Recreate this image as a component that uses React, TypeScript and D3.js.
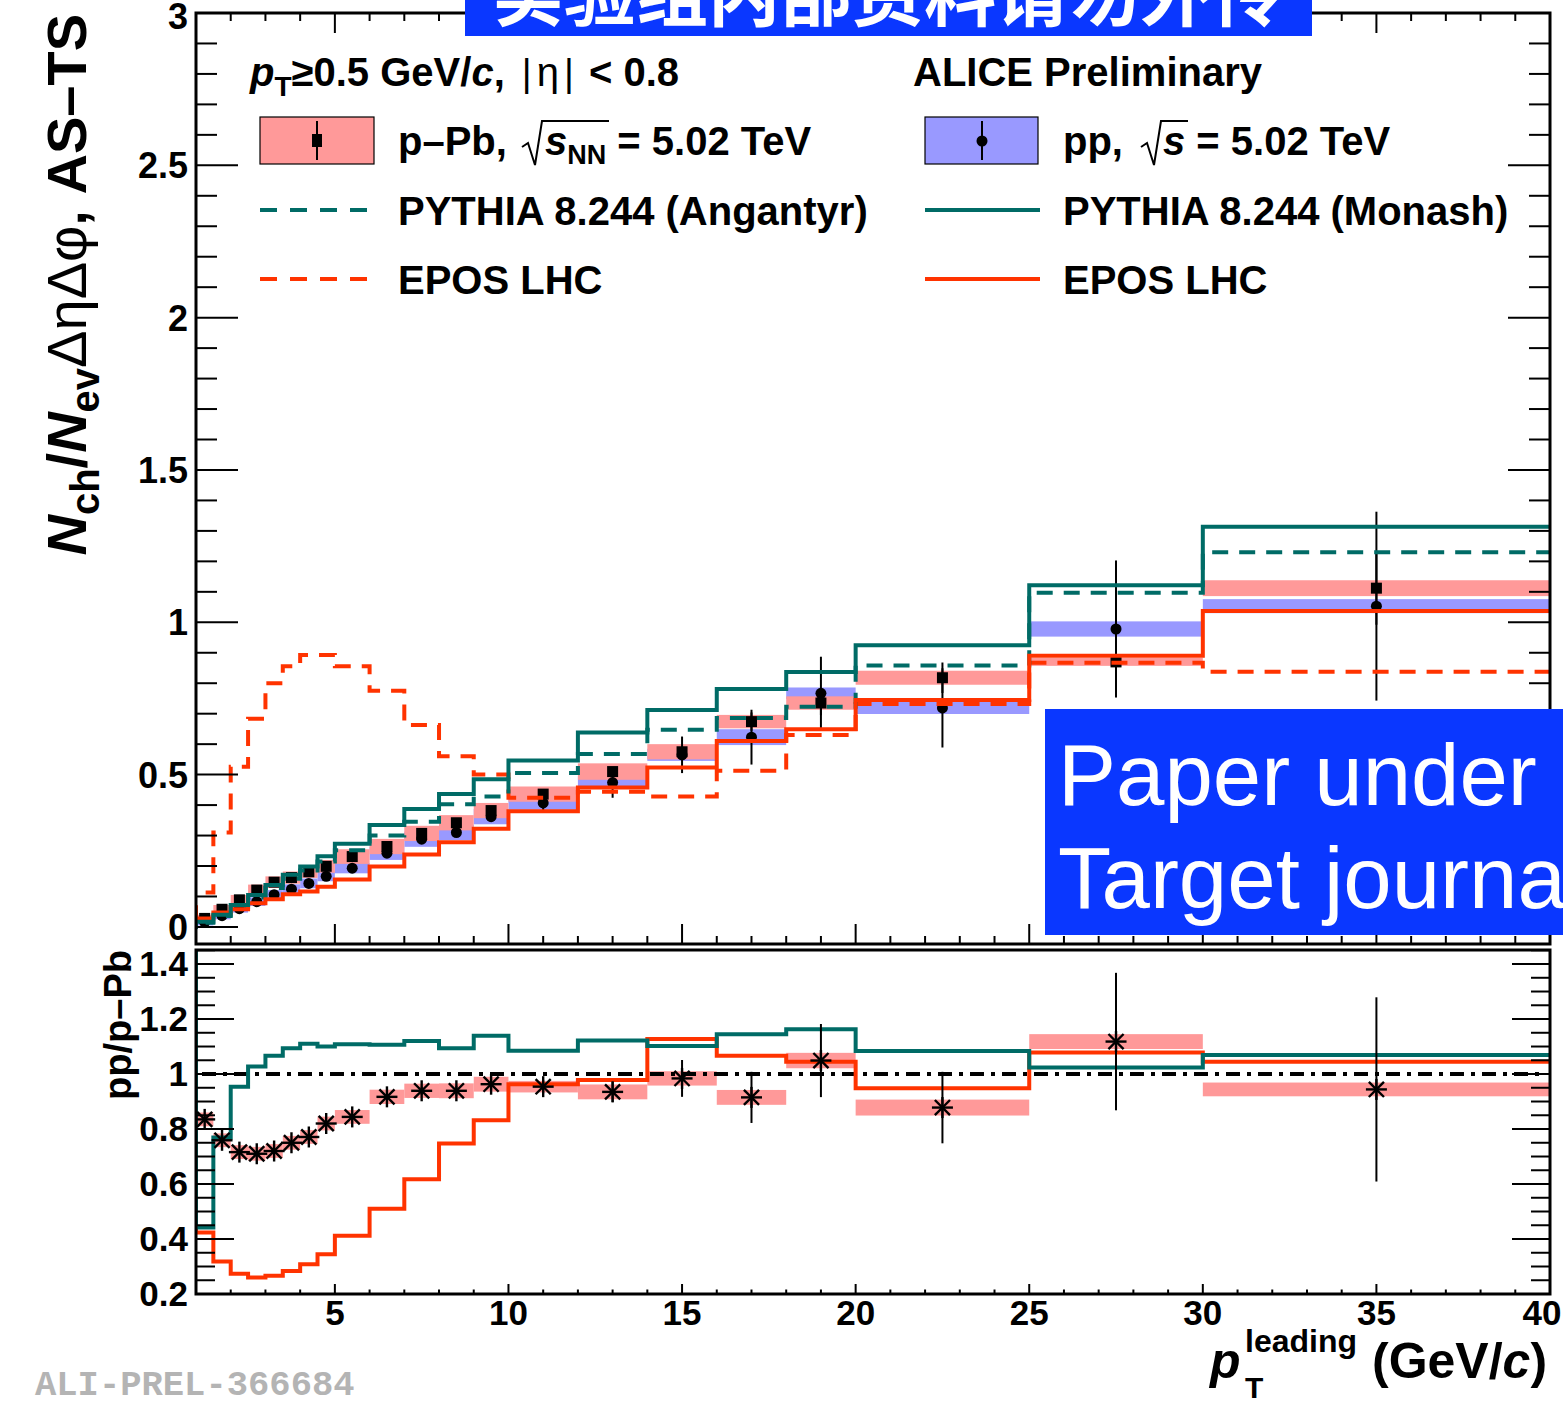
import React from "react";
import * as d3 from "d3";

// bin edges in leading-pT (GeV/c)
const binEdges = [1, 1.5, 2, 2.5, 3, 3.5, 4, 4.5, 5, 6, 7, 8, 9, 10, 12, 14, 16, 18, 20, 25, 30, 40];
const binCenters = binEdges.slice(0, -1).map((e, i) => (e + binEdges[i + 1]) / 2);

// top panel: data
const pPbValues = [0.028, 0.058, 0.089, 0.121, 0.147, 0.162, 0.181, 0.199, 0.231, 0.264, 0.307, 0.342, 0.382, 0.436, 0.51, 0.575, 0.674, 0.735, 0.818, 0.87, 1.112];
const pPbSys = [0.012, 0.014, 0.016, 0.018, 0.019, 0.02, 0.02, 0.021, 0.024, 0.025, 0.025, 0.025, 0.025, 0.025, 0.027, 0.025, 0.022, 0.022, 0.023, 0.013, 0.026];
const pPbStat = [0.002, 0.002, 0.002, 0.003, 0.003, 0.003, 0.004, 0.004, 0.005, 0.006, 0.007, 0.008, 0.01, 0.012, 0.015, 0.02, 0.03, 0.04, 0.05, 0.08, 0.12];
const ppValues = [0.015, 0.037, 0.06, 0.083, 0.106, 0.124, 0.143, 0.166, 0.193, 0.242, 0.288, 0.31, 0.362, 0.407, 0.474, 0.565, 0.623, 0.767, 0.719, 0.978, 1.053];
const ppSys = [0.01, 0.012, 0.013, 0.014, 0.015, 0.016, 0.016, 0.016, 0.017, 0.022, 0.025, 0.025, 0.025, 0.022, 0.02, 0.02, 0.026, 0.019, 0.02, 0.025, 0.023];
const ppStat = [0.002, 0.002, 0.003, 0.003, 0.004, 0.004, 0.005, 0.005, 0.006, 0.008, 0.01, 0.012, 0.015, 0.03, 0.05, 0.06, 0.09, 0.12, 0.13, 0.225, 0.31];

// top panel: models (the "Lead" number is the bin just below 1 GeV/c)
const monashLead = 0.0;
const monash = [0.017, 0.04, 0.072, 0.105, 0.138, 0.171, 0.198, 0.232, 0.273, 0.335, 0.387, 0.436, 0.485, 0.546, 0.638, 0.712, 0.781, 0.837, 0.925, 1.122, 1.314];
const angantyrLead = 0.014;
const angantyr = [0.014, 0.036, 0.066, 0.097, 0.128, 0.158, 0.185, 0.215, 0.252, 0.3, 0.345, 0.403, 0.428, 0.505, 0.568, 0.647, 0.686, 0.723, 0.858, 1.097, 1.23];
const eposPpLead = 0.065;
const eposPp = [0.028, 0.047, 0.058, 0.078, 0.091, 0.107, 0.116, 0.132, 0.156, 0.198, 0.238, 0.278, 0.322, 0.38, 0.458, 0.523, 0.61, 0.649, 0.745, 0.89, 1.037];
const eposPPbLead = 0.113;
const eposPPb = [0.113, 0.31, 0.526, 0.683, 0.8, 0.856, 0.893, 0.893, 0.856, 0.775, 0.663, 0.56, 0.5, 0.424, 0.444, 0.428, 0.513, 0.63, 0.732, 0.867, 0.838];

// bottom panel: ratio pp / p-Pb
const ratioValues = [0.835, 0.759, 0.716, 0.71, 0.72, 0.75, 0.771, 0.82, 0.844, 0.917, 0.939, 0.939, 0.963, 0.954, 0.935, 0.984, 0.915, 1.049, 0.878, 1.118, 0.944];
const ratioSys = [0.025, 0.025, 0.025, 0.025, 0.025, 0.025, 0.025, 0.025, 0.025, 0.026, 0.026, 0.027, 0.027, 0.021, 0.027, 0.026, 0.027, 0.028, 0.029, 0.027, 0.025];
const ratioStat = [0.005, 0.005, 0.005, 0.006, 0.006, 0.007, 0.008, 0.01, 0.01, 0.012, 0.015, 0.018, 0.02, 0.025, 0.037, 0.067, 0.093, 0.133, 0.13, 0.25, 0.335];
const ratioMonashLead = 1.6;
const ratioMonash = [0.442, 0.769, 0.954, 1.027, 1.066, 1.094, 1.11, 1.1, 1.108, 1.106, 1.12, 1.094, 1.139, 1.085, 1.122, 1.102, 1.145, 1.163, 1.084, 1.024, 1.069];
const ratioEposLead = 0.565;
const ratioEpos = [0.424, 0.318, 0.274, 0.26, 0.266, 0.284, 0.308, 0.345, 0.412, 0.51, 0.617, 0.747, 0.832, 0.963, 0.978, 1.127, 1.066, 1.045, 0.948, 1.078, 1.045];

const xTickLabels = ["5", "10", "15", "20", "25", "30", "35", "40"];
const mainYLabels = ["0", "0.5", "1", "1.5", "2", "2.5", "3"];
const ratioYLabels = ["0.2", "0.4", "0.6", "0.8", "1", "1.2", "1.4"];

const TEAL = "#006b66";
const RED = "#ff3300";
const PINK = "#ff9999";
const BLUE = "#9999ff";
const BANNER = "#0a37ff";
const FONT = "'Liberation Sans', Arial, Helvetica, sans-serif";

const L = 196, R = 1550;
const x = d3.scaleLinear().domain([1, 40]).range([L, R]);
const y = d3.scaleLinear().domain([-0.056, 3]).range([944, 13]);
const ry = d3.scaleLinear().domain([0.2, 1.451]).range([1294, 950]);

const stepPath = (vals: number[], lead: number, ys: d3.ScaleLinear<number, number>) => {
  const pts: [number, number][] = [[0.5, lead], ...vals.map((v, i) => [binEdges[i], v] as [number, number]), [40, vals[vals.length - 1]]];
  return d3.line<[number, number]>().x(d => x(d[0])).y(d => ys(d[1])).curve(d3.curveStepAfter)(pts) || "";
};

const majorX = d3.range(5, 41, 5);
const minorX = d3.range(2, 40, 1).filter(v => v % 5 !== 0);
const majorY = d3.range(0, 3.001, 0.5);
const minorY = d3.range(0, 3.001, 0.1).filter(v => Math.round(v * 10) % 5 !== 0);
const majorRY = d3.range(0.2, 1.401, 0.2);
const minorRY = d3.range(0.2, 1.451, 0.05).filter(v => Math.round(v * 20) % 4 !== 0);

const Star = ({ cx, cy, s }: { cx: number; cy: number; s: number }) => {
  const d = s * 0.72;
  return (
    <g stroke="#000" strokeWidth={2.4}>
      <line x1={cx} y1={cy - s} x2={cx} y2={cy + s} />
      <line x1={cx - s} y1={cy} x2={cx + s} y2={cy} />
      <line x1={cx - d} y1={cy - d} x2={cx + d} y2={cy + d} />
      <line x1={cx - d} y1={cy + d} x2={cx + d} y2={cy - d} />
    </g>
  );
};

export default function App() {
  const mainTop = 13, mainBot = 944, rTop = 950, rBot = 1294;
  return (
    <svg width={1563} height={1403} style={{ position: "absolute", left: 0, top: 0, background: "#fff" }} fontFamily={FONT}>
      <defs>
        <clipPath id="clipMain"><rect x={L} y={mainTop} width={R - L} height={mainBot - mainTop} /></clipPath>
        <clipPath id="clipRatio"><rect x={L} y={rTop} width={R - L} height={rBot - rTop} /></clipPath>
      </defs>
      <rect x={0} y={0} width={1563} height={1403} fill="#fff" />

      {/* ---------- main panel ---------- */}
      <g clipPath="url(#clipMain)">
        {ppValues.map((v, i) => (
          <rect key={"bb" + i} x={x(binEdges[i])} width={x(binEdges[i + 1]) - x(binEdges[i])}
            y={y(v + ppSys[i])} height={y(v - ppSys[i]) - y(v + ppSys[i])} fill={BLUE} />
        ))}
        {pPbValues.map((v, i) => (
          <rect key={"pb" + i} x={x(binEdges[i])} width={x(binEdges[i + 1]) - x(binEdges[i])}
            y={y(v + pPbSys[i])} height={y(v - pPbSys[i]) - y(v + pPbSys[i])} fill={PINK} />
        ))}
        {binCenters.map((c, i) => (
          <g key={"err" + i} stroke="#000" strokeWidth={2}>
            <line x1={x(c)} x2={x(c)} y1={y(ppValues[i] - ppStat[i])} y2={y(ppValues[i] + ppStat[i])} />
            <line x1={x(c)} x2={x(c)} y1={y(pPbValues[i] - pPbStat[i])} y2={y(pPbValues[i] + pPbStat[i])} />
          </g>
        ))}
        {binCenters.map((c, i) => (
          <g key={"mk" + i} fill="#000">
            <rect x={x(c) - 5.5} y={y(pPbValues[i]) - 5.5} width={11} height={11} />
            <circle cx={x(c)} cy={y(ppValues[i])} r={5.5} />
          </g>
        ))}
        <path d={stepPath(eposPPb, eposPPbLead, y)} fill="none" stroke={RED} strokeWidth={4} strokeDasharray="16 11" />
        <path d={stepPath(angantyr, angantyrLead, y)} fill="none" stroke={TEAL} strokeWidth={4} strokeDasharray="16 11" />
        <path d={stepPath(eposPp, eposPpLead, y)} fill="none" stroke={RED} strokeWidth={4} />
        <path d={stepPath(monash, monashLead, y)} fill="none" stroke={TEAL} strokeWidth={4} />
      </g>

      {/* main frame + ticks */}
      <g stroke="#000">
        {majorY.map(v => (
          <g key={"my" + v} strokeWidth={2}>
            <line x1={L} x2={L + 42} y1={y(v)} y2={y(v)} />
            <line x1={R} x2={R - 42} y1={y(v)} y2={y(v)} />
          </g>
        ))}
        {minorY.map(v => (
          <g key={"ny" + v} strokeWidth={2}>
            <line x1={L} x2={L + 21} y1={y(v)} y2={y(v)} />
            <line x1={R} x2={R - 21} y1={y(v)} y2={y(v)} />
          </g>
        ))}
        {majorX.map(v => (
          <g key={"mx" + v} strokeWidth={2}>
            <line x1={x(v)} x2={x(v)} y1={mainBot} y2={mainBot - 20} />
            <line x1={x(v)} x2={x(v)} y1={mainTop} y2={mainTop + 20} />
          </g>
        ))}
        {minorX.map(v => (
          <g key={"nx" + v} strokeWidth={2}>
            <line x1={x(v)} x2={x(v)} y1={mainBot} y2={mainBot - 8} />
            <line x1={x(v)} x2={x(v)} y1={mainTop} y2={mainTop + 8} />
          </g>
        ))}
        <rect x={L} y={mainTop} width={R - L} height={mainBot - mainTop} fill="none" strokeWidth={3} />
      </g>
      {mainYLabels.map((t, i) => (
        <text key={"yl" + t} x={188} y={Math.max(y(majorY[i]) + 13, 29)} textAnchor="end" fontSize={36} fontWeight="bold">{t}</text>
      ))}

      {/* main y title */}
      <text transform="rotate(-90)" x={-14} y={86} textAnchor="end" fontSize={56} fontWeight="bold">
        <tspan fontStyle="italic">N</tspan>
        <tspan fontSize={40} dy={13}>ch</tspan>
        <tspan dy={-13}>/</tspan>
        <tspan fontStyle="italic">N</tspan>
        <tspan fontSize={40} dy={13}>ev</tspan>
        <tspan dy={-13} fontWeight="normal">ΔηΔφ</tspan>
        <tspan>, AS–TS</tspan>
      </text>

      {/* legend */}
      <text x={250} y={86} fontSize={40} fontWeight="bold">
        <tspan fontStyle="italic">p</tspan>
        <tspan fontSize={28} dy={10}>T</tspan>
        <tspan dy={-10}>≥0.5 GeV/</tspan>
        <tspan fontStyle="italic">c</tspan>
        <tspan>, </tspan>
        <tspan fontWeight="normal" fontSize={38} dx={6}>|</tspan>
        <tspan fontWeight="normal" fontSize={40} dx={5}>η</tspan>
        <tspan fontWeight="normal" fontSize={38} dx={5}>|</tspan>
        <tspan dx={4}> &lt; 0.8</tspan>
      </text>
      <text x={913} y={86} fontSize={40} fontWeight="bold">ALICE Preliminary</text>

      <rect x={260} y={117} width={114} height={47} fill={PINK} stroke="#000" strokeWidth={1.2} />
      <line x1={317} x2={317} y1={121} y2={160} stroke="#000" strokeWidth={2} />
      <rect x={312} y={134} width={10} height={13} fill="#000" />
      <text x={398} y={155} fontSize={40} fontWeight="bold">p–Pb,</text>
      <path d="M522,147 L528,143 L535,165 L542,121 L609,121" fill="none" stroke="#000" strokeWidth={2} />
      <text x={545} y={155} fontSize={40} fontWeight="bold">
        <tspan fontStyle="italic">s</tspan>
        <tspan fontSize={27} dy={9}>NN</tspan>
        <tspan dy={-9}> = 5.02 TeV</tspan>
      </text>

      <rect x={925} y={117} width={113} height={47} fill={BLUE} stroke="#000" strokeWidth={1.2} />
      <line x1={982} x2={982} y1={121} y2={160} stroke="#000" strokeWidth={2} />
      <circle cx={982} cy={141} r={5.5} fill="#000" />
      <text x={1063} y={155} fontSize={40} fontWeight="bold">pp,</text>
      <path d="M1141,147 L1147,143 L1154,165 L1161,121 L1188,121" fill="none" stroke="#000" strokeWidth={2} />
      <text x={1163} y={155} fontSize={40} fontWeight="bold">
        <tspan fontStyle="italic">s</tspan>
        <tspan> = 5.02 TeV</tspan>
      </text>

      <line x1={260} x2={372} y1={210} y2={210} stroke={TEAL} strokeWidth={4} strokeDasharray="17 13" />
      <text x={398} y={225} fontSize={40} fontWeight="bold">PYTHIA 8.244 (Angantyr)</text>
      <line x1={925} x2={1040} y1={210} y2={210} stroke={TEAL} strokeWidth={4} />
      <text x={1063} y={225} fontSize={40} fontWeight="bold">PYTHIA 8.244 (Monash)</text>
      <line x1={260} x2={372} y1={279} y2={279} stroke={RED} strokeWidth={4} strokeDasharray="17 13" />
      <text x={398} y={294} fontSize={40} fontWeight="bold">EPOS LHC</text>
      <line x1={925} x2={1040} y1={279} y2={279} stroke={RED} strokeWidth={4} />
      <text x={1063} y={294} fontSize={40} fontWeight="bold">EPOS LHC</text>

      {/* ---------- ratio panel ---------- */}
      <g clipPath="url(#clipRatio)">
        {ratioValues.map((v, i) => (
          <rect key={"rb" + i} x={x(binEdges[i])} width={x(binEdges[i + 1]) - x(binEdges[i])}
            y={ry(v + ratioSys[i])} height={ry(v - ratioSys[i]) - ry(v + ratioSys[i])} fill={PINK} />
        ))}
        <line x1={202} x2={1545} y1={ry(1)} y2={ry(1)} stroke="#000" strokeWidth={4} strokeDasharray="14 7 4 7" />
        <path d={stepPath(ratioEpos, ratioEposLead, ry)} fill="none" stroke={RED} strokeWidth={4} />
        <path d={stepPath(ratioMonash, ratioMonashLead, ry)} fill="none" stroke={TEAL} strokeWidth={4} />
        {binCenters.map((c, i) => (
          <g key={"rs" + i}>
            <line x1={x(c)} x2={x(c)} y1={ry(ratioValues[i] - ratioStat[i])} y2={ry(ratioValues[i] + ratioStat[i])} stroke="#000" strokeWidth={2} />
            <Star cx={x(c)} cy={ry(ratioValues[i])} s={10.5} />
          </g>
        ))}
      </g>

      <g stroke="#000">
        {majorRY.map(v => (
          <g key={"mry" + v} strokeWidth={2}>
            <line x1={L} x2={L + 38} y1={ry(v)} y2={ry(v)} />
            <line x1={R} x2={R - 38} y1={ry(v)} y2={ry(v)} />
          </g>
        ))}
        {minorRY.map(v => (
          <g key={"nry" + v} strokeWidth={2}>
            <line x1={L} x2={L + 19} y1={ry(v)} y2={ry(v)} />
            <line x1={R} x2={R - 19} y1={ry(v)} y2={ry(v)} />
          </g>
        ))}
        {majorX.map(v => (
          <line key={"rmx" + v} x1={x(v)} x2={x(v)} y1={rBot} y2={rBot - 10} strokeWidth={2} />
        ))}
        {minorX.map(v => (
          <line key={"rnx" + v} x1={x(v)} x2={x(v)} y1={rBot} y2={rBot - 4.5} strokeWidth={2} />
        ))}
        <rect x={L} y={rTop} width={R - L} height={rBot - rTop} fill="none" strokeWidth={3} />
      </g>
      {ratioYLabels.map((t, i) => (
        <text key={"ryl" + t} x={188} y={ry(majorRY[i]) + 12} textAnchor="end" fontSize={35} fontWeight="bold">{t}</text>
      ))}
      {xTickLabels.map((t, i) => (
        <text key={"xl" + t} x={Math.min(x(majorX[i]), 1542)} y={1325} textAnchor="middle" fontSize={35} fontWeight="bold">{t}</text>
      ))}

      <text transform="rotate(-90)" x={-950} y={131} textAnchor="end" fontSize={38} fontWeight="bold">pp/p–Pb</text>

      {/* x title */}
      <text x={1210} y={1378} fontSize={50} fontWeight="bold" fontStyle="italic">p</text>
      <text x={1245} y={1352} fontSize={32} fontWeight="bold">leading</text>
      <text x={1245} y={1398} fontSize={30} fontWeight="bold">T</text>
      <text x={1372} y={1378} fontSize={50} fontWeight="bold">
        <tspan>(GeV/</tspan>
        <tspan fontStyle="italic">c</tspan>
        <tspan>)</tspan>
      </text>

      <text x={35} y={1395} fontSize={35.5} fontWeight="bold" fill="#b4b4b4" fontFamily="'Liberation Mono', 'DejaVu Sans Mono', monospace">ALI-PREL-366684</text>

      {/* overlays */}
      <rect x={1045} y={709} width={518} height={226} fill={BANNER} />
      <text x={1058} y={805} fontSize={87} fill="#fff">Paper under</text>
      <text x={1058} y={908} fontSize={87} fill="#fff">Target journa</text>

      <rect x={465} y={0} width={847} height={36} fill={BANNER} />
      <text x={888} y={20} textAnchor="middle" fontSize={72} fill="#fff" fontFamily="'Noto Sans CJK SC', sans-serif" fontWeight="bold">实验组内部资料请勿外传</text>
    </svg>
  );
}
